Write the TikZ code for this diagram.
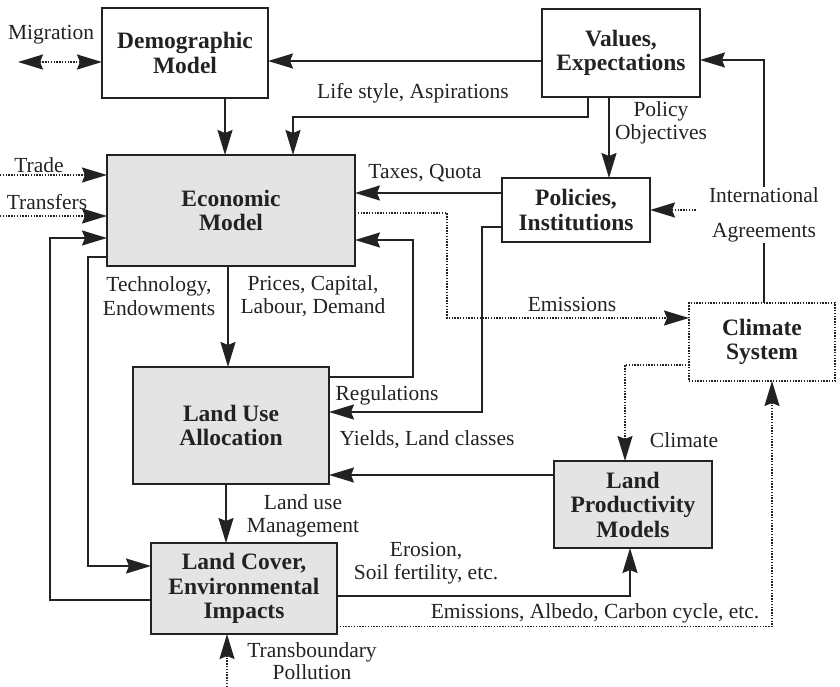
\documentclass[tikz,border=0pt]{standalone}
\usepackage{fontspec}
\setmainfont{Liberation Serif}
\usetikzlibrary{arrows.meta,positioning}
\definecolor{ink}{RGB}{34,34,34}
\definecolor{shade}{RGB}{228,228,228}

\begin{document}
\begin{tikzpicture}[x=1pt,y=-1pt,
  model/.style={draw=ink,line width=2pt,inner sep=0pt,outer sep=0pt,align=center,font=\fontsize{23.5}{24.5}\selectfont\bfseries,text=ink},
  shaded/.style={model,fill=shade},
  lbl/.style={font=\fontsize{21.5}{23.5}\selectfont,align=center,text=ink,inner sep=1pt},
  arr/.style={-{Stealth[length=25pt,width=15pt,inset=3pt]},line width=1.6pt,draw=ink},
  dotarr/.style={arr,dash pattern=on 1.4pt off 1.4pt},
  link/.style={line width=1.6pt,draw=ink}
]
  \useasboundingbox (0,0) rectangle (840,687);

  % Models
  \node[model,minimum width=166pt,minimum height=90pt] (demo) at (185,53) {Demographic\\Model};
  \node[model,minimum width=158pt,minimum height=88pt] (val) at (621,53) {Values,\\Expectations};
  \node[shaded,minimum width=248pt,minimum height=111pt] (econ) at (231,210.5) {Economic\\Model};
  \node[model,minimum width=148pt,minimum height=64pt] (pol) at (576,210) {Policies,\\Institutions};
  \node[model,line width=1.6pt,dash pattern=on 1.4pt off 1.4pt,minimum width=146pt,minimum height=78pt] (clim) at (762,342) {Climate\\System};
  \node[shaded,minimum width=196pt,minimum height=117pt] (lu) at (231,425.5) {Land Use\\Allocation};
  \node[shaded,minimum width=158pt,minimum height=87pt] (prod) at (633,504.5) {Land\\Productivity\\Models};
  \node[shaded,minimum width=186pt,minimum height=91pt] (cover) at (244,588.5) {Land Cover,\\Environmental\\Impacts};

  % Labels
  \node[lbl] (migr) at (51,35) {Migration};
  \node[lbl] (life) at (413,93) {Life style, Aspirations};
  \node[lbl] (polobj) at (661,123) {Policy\\Objectives};
  \node[lbl] (trade) at (39,165) {Trade};
  \node[lbl] (transf) at (47,202) {Transfers};
  \node[lbl] (taxes) at (425,173) {Taxes, Quota};
  \node[lbl] (intl) at (764,215) {International\\[11pt]Agreements};
  \node[lbl] (emis) at (572,304) {Emissions};
  \node[lbl] (tech) at (159,296) {Technology,\\Endowments};
  \node[lbl] (prices) at (313,296) {Prices, Capital,\\Labour, Demand};
  \node[lbl] (regul) at (387,395) {Regulations};
  \node[lbl] (yields) at (427,440) {Yields, Land classes};
  \node[lbl] (climlbl) at (684,440) {Climate};
  \node[lbl] (mgmt) at (303,516) {Land use\\Management};
  \node[lbl] (eros) at (426,563) {Erosion,\\Soil fertility, etc.};
  \node[lbl] (albedo) at (595,613) {Emissions, Albedo, Carbon cycle, etc.};
  \node[lbl,font=\fontsize{21.5}{22.5}\selectfont] (transb) at (312,661) {Transboundary\\Pollution};

  % Free ends
  \coordinate (migL) at (18,62);
  \coordinate (tradeL) at (0,175);
  \coordinate (transfL) at (0,216);
  \coordinate (tbB) at (227,687);

  % Connectors
  \draw[dotarr,{Stealth[length=25pt,width=15pt,inset=3pt]}-{Stealth[length=25pt,width=15pt,inset=3pt]}] (migL) -- (migL -| demo.west);
  \draw[dotarr] (tradeL) -- (tradeL -| econ.west);
  \draw[dotarr] (transfL) -- (transfL -| econ.west);
  \draw[arr] ([yshift=-8pt]val.west) -- ([yshift=-8pt]demo.east);
  \draw[arr] ([xshift=-33pt]val.south) -- ++(0,20) -| ([xshift=62pt]econ.north);
  \draw[arr] ([xshift=40pt]demo.south) -- ([xshift=40pt]demo.south |- econ.north);
  \draw[arr] ([xshift=-12pt]val.south) -- ([xshift=-12pt]val.south |- pol.north);
  \draw[arr] ([yshift=17pt]pol.west) -- ([yshift=17pt]pol.west -| econ.east);
  \draw[arr] (intl.north) |- ([yshift=-7pt]val.east);
  \draw[link] (intl.south) -- (intl.south |- clim.north);
  \draw[dotarr] ([xshift=-12pt]intl.west |- pol.east) -- (pol.east);
  \draw[dotarr] ([yshift=-2.5pt]econ.east) -- ++(92,0) |- ([yshift=24pt]clim.west);
  \draw[arr] ([xshift=-3pt]econ.south) -- ([xshift=-3pt]econ.south |- lu.north);
  \draw[arr] ([yshift=48.5pt]lu.east) -- ++(84,0) |- ([yshift=-29.5pt]econ.east);
  \draw[arr] ([yshift=-17pt]pol.west) -- ++(-20,0) |- ([yshift=13.5pt]lu.east);
  \draw[arr] ([yshift=29.5pt]prod.west) -- ([yshift=29.5pt]prod.west -| lu.east);
  \draw[dotarr] ([yshift=-23pt]clim.west) -| ([xshift=-8pt]prod.north);
  \draw[arr] ([xshift=-5pt]lu.south) -- ([xshift=-5pt]lu.south |- cover.north);
  \draw[arr] ([yshift=-46.5pt]econ.west) -- ++(-19,0) |- ([yshift=22.5pt]cover.west);
  \draw[arr] ([yshift=-11.5pt]cover.west) -- ++(-101,0) |- ([yshift=-27.5pt]econ.west);
  \draw[arr] ([yshift=-7.5pt]cover.east) -| ([xshift=-3pt]prod.south);
  \draw[dotarr] ([yshift=-38pt]cover.east) -| ([xshift=10pt]clim.south);
  \draw[dotarr] (tbB) -- (tbB |- cover.south);
\end{tikzpicture}
\end{document}
